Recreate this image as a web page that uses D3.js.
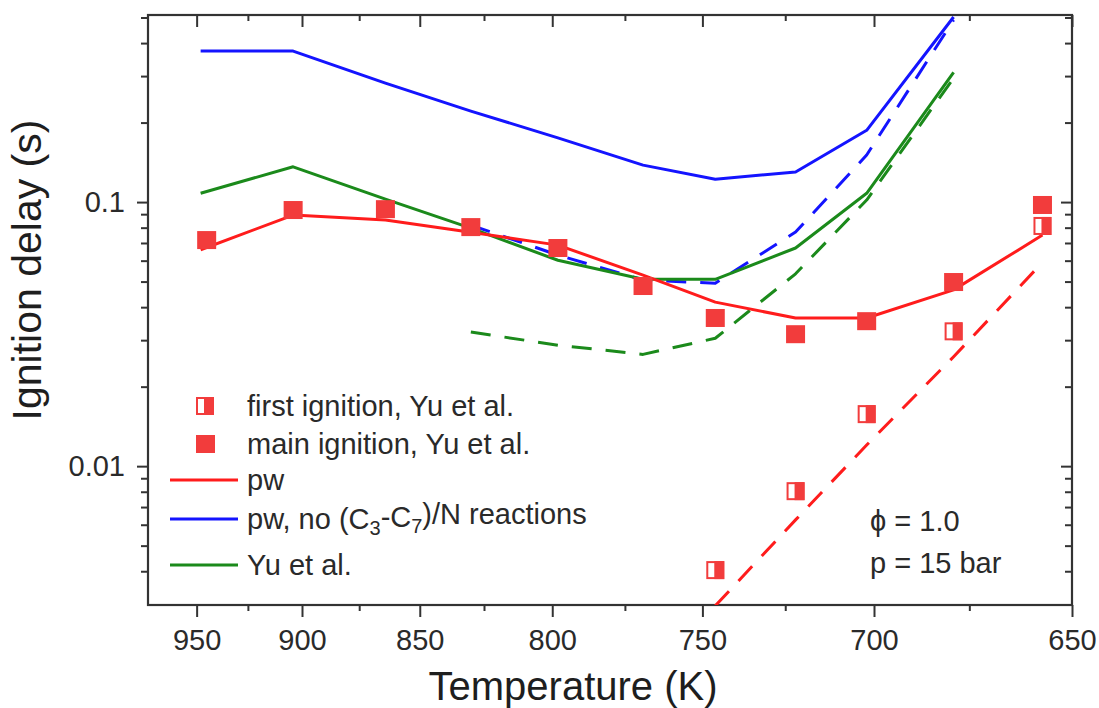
<!DOCTYPE html>
<html>
<head>
<meta charset="utf-8">
<script src="https://cdn.jsdelivr.net/npm/d3@7"></script>
<style>
  body { margin: 0; background: #fff; }
  text { font-family: "Liberation Sans", Arial, sans-serif; }
</style>
</head>
<body>
<script>
// plot box: 148..1072 x 15..605
var margin = { top: 15, right: 27, bottom: 103, left: 148 },
    width = 1099 - margin.left - margin.right,
    height = 708 - margin.top - margin.bottom;

// model temperatures (K)
var tempModel = [948, 904, 864, 830, 798, 769, 746, 722, 702, 679, 657];
// simulated ignition delays (s)
var pwMain      = [0.066, 0.0893, 0.0855, 0.0769, 0.0687, 0.0529, 0.0418, 0.0364, 0.0364, 0.0465, 0.075];
var pwFirst     = [null, null, null, null, null, null, 0.00296, 0.00626, 0.01202, 0.02597, 0.0591];
var noCNMain    = [0.373, 0.373, 0.282, 0.221, 0.175, 0.138, 0.122, 0.130, 0.187, 0.502, null];
var noCNFirst   = [null, null, null, 0.0818, 0.063, 0.0507, 0.0493, 0.077, 0.1507, 0.489, null];
var yuMain      = [0.108, 0.136, 0.1026, 0.0797, 0.0602, 0.0510, 0.0510, 0.067, 0.108, 0.31, null];
var yuFirst     = [null, null, null, 0.0322, 0.0287, 0.0265, 0.0305, 0.0535, 0.1018, 0.295, null];

// experiments, Yu et al.
var tempExpMain = [945, 904, 864, 830, 798, 769, 746, 722, 702, 679, 657];
var expMain     = [0.0718, 0.0933, 0.094, 0.0804, 0.067, 0.0481, 0.0364, 0.0316, 0.0354, 0.0498, 0.0975];
var tempExpFirst = [746, 722, 702, 679, 657];
var expFirst     = [0.00404, 0.00804, 0.01574, 0.0324, 0.0812];

// axis ticks
var xMajor = [950, 900, 850, 800, 750, 700, 650];
var xMinor = [925, 875, 825, 775, 725, 675];
var yMajor = [0.01, 0.1];
var yMinor = [0.004, 0.005, 0.006, 0.007, 0.008, 0.009,
              0.02, 0.03, 0.04, 0.05, 0.06, 0.07, 0.08, 0.09,
              0.2, 0.3, 0.4, 0.5];

var RED = "#ff1c1c", BLUE = "#1414ff", GREEN = "#1b8a1b", MARK = "#f23c3c", INK = "#333";

// x axis is linear in 1000/T
var inv = function (T) { return 1000 / T; };
var x = d3.scaleLinear().domain([inv(975), inv(650)]).range([0, width]);
var y = d3.scaleLog().domain([0.00298, 0.511]).range([height, 0]);

var svg = d3.select("body").append("svg")
    .attr("width", 1099)
    .attr("height", 708);

var chart = svg.append("g")
    .attr("transform", "translate(" + margin.left + "," + margin.top + ")");

chart.append("clipPath").attr("id", "clip")
    .append("rect").attr("width", width).attr("height", height);

// ---- axes ----
function styleAxis(g) {
    g.select(".domain").remove();
    g.selectAll(".tick line").attr("stroke", INK).attr("stroke-width", 2);
    g.selectAll(".tick text").attr("fill", "#2a2a2a").attr("font-size", "29px")
        .style("font-family", "'Liberation Sans', Arial, sans-serif");
}

var xPos = function (T) { return inv(T); };

chart.append("g").attr("transform", "translate(0," + height + ")")
    .call(d3.axisBottom(x).tickValues(xMajor.map(xPos)).tickSize(12).tickPadding(12)
        .tickFormat(function (d) { return Math.round(1000 / d); }))
    .call(styleAxis);
chart.append("g").attr("transform", "translate(0," + height + ")")
    .call(d3.axisBottom(x).tickValues(xMinor.map(xPos)).tickSize(6).tickFormat(""))
    .call(styleAxis);
chart.append("g")
    .call(d3.axisTop(x).tickValues(xMajor.map(xPos)).tickSize(-12).tickFormat(""))
    .call(styleAxis);
chart.append("g")
    .call(d3.axisTop(x).tickValues(xMinor.map(xPos)).tickSize(-6).tickFormat(""))
    .call(styleAxis);

chart.append("g")
    .call(d3.axisLeft(y).tickValues(yMajor).tickSize(11).tickPadding(12)
        .tickFormat(function (d) { return d === 0.1 ? "0.1" : "0.01"; }))
    .call(styleAxis);
chart.append("g")
    .call(d3.axisLeft(y).tickValues(yMinor).tickSize(7).tickFormat(""))
    .call(styleAxis);
chart.append("g").attr("transform", "translate(" + width + ",0)")
    .call(d3.axisRight(y).tickValues(yMajor).tickSize(-11).tickFormat(""))
    .call(styleAxis);
chart.append("g").attr("transform", "translate(" + width + ",0)")
    .call(d3.axisRight(y).tickValues(yMinor).tickSize(-7).tickFormat(""))
    .call(styleAxis);

// frame
chart.append("rect")
    .attr("width", width).attr("height", height)
    .attr("fill", "none").attr("stroke", INK).attr("stroke-width", 2.2);

// ---- lines ----
var line = d3.line()
    .defined(function (d) { return d.v != null; })
    .x(function (d) { return x(inv(d.t)); })
    .y(function (d) { return y(d.v); });

function series(vals) {
    return tempModel.map(function (t, i) { return { t: t, v: vals[i] }; });
}

var lines = chart.append("g").attr("clip-path", "url(#clip)");
[
    { v: noCNFirst, c: BLUE, dash: "20,14" },
    { v: yuFirst, c: GREEN, dash: "20,14" },
    { v: pwFirst, c: RED, dash: "20,14" },
    { v: noCNMain, c: BLUE },
    { v: yuMain, c: GREEN },
    { v: pwMain, c: RED }
].forEach(function (s) {
    lines.append("path")
        .datum(series(s.v))
        .attr("d", line)
        .attr("fill", "none")
        .attr("stroke", s.c)
        .attr("stroke-width", 3)
        .attr("stroke-linejoin", "round")
        .attr("stroke-dasharray", s.dash || null);
});

// ---- markers ----
var sq = 18;
function halfSquare(g) {
    g.append("rect").attr("x", -sq / 2 + 1).attr("y", -sq / 2 + 1)
        .attr("width", sq - 2).attr("height", sq - 2)
        .attr("fill", "#fff").attr("stroke", MARK).attr("stroke-width", 2);
    g.append("rect").attr("x", -1).attr("y", -sq / 2)
        .attr("width", sq / 2 + 1).attr("height", sq)
        .attr("fill", MARK);
}

var marks = chart.append("g");
marks.selectAll("rect.main")
    .data(tempExpMain.map(function (t, i) { return { t: t, v: expMain[i] }; }))
    .enter().append("rect")
    .attr("class", "main")
    .attr("x", function (d) { return x(inv(d.t)) - sq / 2 - 0.5; })
    .attr("y", function (d) { return y(d.v) - sq / 2; })
    .attr("width", sq + 1).attr("height", sq)
    .attr("fill", MARK);

marks.selectAll("g.first")
    .data(tempExpFirst.map(function (t, i) { return { t: t, v: expFirst[i] }; }))
    .enter().append("g")
    .attr("class", "first")
    .attr("transform", function (d) { return "translate(" + x(inv(d.t)) + "," + y(d.v) + ")"; })
    .each(function () { halfSquare(d3.select(this)); });

// ---- legend ----
var legend = svg.append("g").attr("font-size", "29px").attr("fill", "#2a2a2a");
var lgX = 247;
halfSquare(legend.append("g").attr("transform", "translate(205,406)"));
legend.append("rect").attr("x", 205 - sq / 2).attr("y", 444 - sq / 2)
    .attr("width", sq + 1).attr("height", sq).attr("fill", MARK);
[[480, RED], [519, BLUE], [565, GREEN]].forEach(function (e) {
    legend.append("line").attr("x1", 170).attr("x2", 238)
        .attr("y1", e[0]).attr("y2", e[0])
        .attr("stroke", e[1]).attr("stroke-width", 3);
});
legend.append("text").attr("x", lgX).attr("y", 406).attr("dy", "0.36em").text("first ignition, Yu et al.");
legend.append("text").attr("x", lgX).attr("y", 444).attr("dy", "0.36em").text("main ignition, Yu et al.");
legend.append("text").attr("x", lgX).attr("y", 480).attr("dy", "0.36em").text("pw");
var t4 = legend.append("text").attr("x", lgX).attr("y", 519).attr("dy", "0.36em");
t4.append("tspan").text("pw, no (C");
t4.append("tspan").attr("font-size", "20px").attr("dy", "0.3em").text("3");
t4.append("tspan").attr("dy", "-0.3em").text("-C");
t4.append("tspan").attr("font-size", "20px").attr("dy", "0.3em").text("7");
t4.append("tspan").attr("dy", "-0.3em").text(")/N reactions");
legend.append("text").attr("x", lgX).attr("y", 565).attr("dy", "0.36em").text("Yu et al.");

// conditions
svg.append("text").attr("x", 870).attr("y", 531).attr("font-size", "29px").attr("fill", "#2a2a2a")
    .text("\u03D5 = 1.0");
svg.append("text").attr("x", 870).attr("y", 573).attr("font-size", "29px").attr("fill", "#2a2a2a")
    .text("p = 15 bar");

// axis titles
svg.append("text")
    .attr("x", 573).attr("y", 700)
    .attr("text-anchor", "middle")
    .attr("font-size", "40px").attr("fill", "#1e1e1e")
    .text("Temperature (K)");

svg.append("text")
    .attr("transform", "translate(41,270) rotate(-90)")
    .attr("text-anchor", "middle")
    .attr("font-size", "41px").attr("fill", "#1e1e1e")
    .text("Ignition delay (s)");
</script>
</body>
</html>
